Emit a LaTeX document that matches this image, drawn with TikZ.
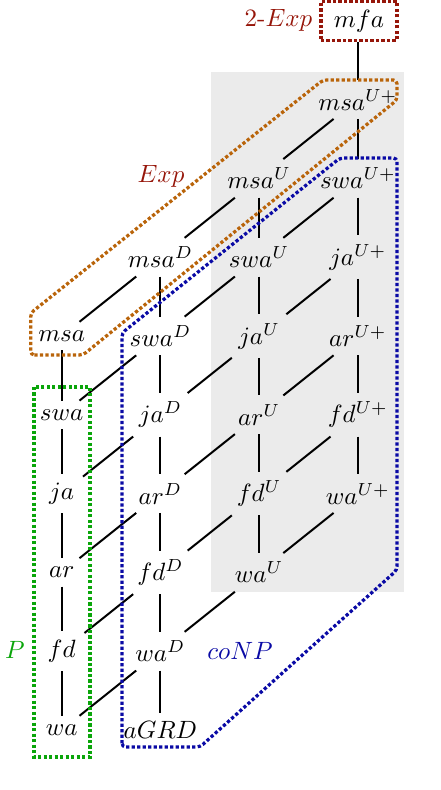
\documentclass[tikz,border=0pt]{standalone}
\definecolor{dred}{RGB}{150,22,10}
\definecolor{dorange}{RGB}{185,100,10}
\definecolor{dblue}{RGB}{10,10,165}
\definecolor{dgreen}{RGB}{10,165,10}
\definecolor{bggray}{RGB}{235,235,235}
\begin{document}
\begin{tikzpicture}[x=0.4pt,y=-0.4pt,
  lat/.style={inner sep=0.333em},
  edge/.style={line width=0.8pt},
  region/.style={dash pattern=on 1.3pt off 0.9pt, line width=1.3pt},
  lbl/.style={anchor=base, inner sep=0pt}]
\useasboundingbox (0,0) rectangle (440,790);
\fill[bggray] (211,72) rectangle (404,592);
% column 1
\node[lat] (msa) at (61.7,336)   {$msa$};
\node[lat] (swa) at (61.7,414.8) {$swa$};
\node[lat] (ja)  at (61.7,493.6) {$ja$};
\node[lat] (ar)  at (61.7,572.4) {$ar$};
\node[lat] (fd)  at (61.7,651.2) {$fd$};
\node[lat] (wa)  at (61.7,730)   {$wa$};
% column 2
\node[lat] (msaD) at (160.4,257.2) {$msa^D$};
\node[lat] (swaD) at (160.4,336)   {$swa^D$};
\node[lat] (jaD)  at (160.4,414.8) {$ja^D$};
\node[lat] (arD)  at (160.4,493.6) {$ar^D$};
\node[lat] (fdD)  at (160.4,572.4) {$fd^D$};
\node[lat] (waD)  at (160.4,651.2) {$wa^D$};
\node[lat] (aGRD) at (160.4,730)   {$aGRD$};
% column 3
\node[lat] (msaU) at (259.1,178.4) {$msa^U$};
\node[lat] (swaU) at (259.1,257.2) {$swa^U$};
\node[lat] (jaU)  at (259.1,336)   {$ja^U$};
\node[lat] (arU)  at (259.1,414.8) {$ar^U$};
\node[lat] (fdU)  at (259.1,493.6) {$fd^U$};
\node[lat] (waU)  at (259.1,572.4) {$wa^U$};
% column 4
\node[lat, draw=dred, region, inner xsep=5.2pt] (mfa) at (359,20.8) {$mfa$};
\node[lat] (msaUp) at (357.8,99.6)  {$msa^{U+}$};
\node[lat] (swaUp) at (357.8,178.4) {$swa^{U+}$};
\node[lat] (jaUp)  at (357.8,257.2) {$ja^{U+}$};
\node[lat] (arUp)  at (357.8,336)   {$ar^{U+}$};
\node[lat] (fdUp)  at (357.8,414.8) {$fd^{U+}$};
\node[lat] (waUp)  at (357.8,493.6) {$wa^{U+}$};
% vertical edges
\draw[edge] (msa)--(swa) (swa)--(ja) (ja)--(ar) (ar)--(fd) (fd)--(wa);
\draw[edge] (msaD)--(swaD) (swaD)--(jaD) (jaD)--(arD) (arD)--(fdD) (fdD)--(waD) (waD)--(aGRD);
\draw[edge] (msaU)--(swaU) (swaU)--(jaU) (jaU)--(arU) (arU)--(fdU) (fdU)--(waU);
\draw[edge] (msaUp.north |- mfa.south)--(msaUp) (msaUp)--(swaUp) (swaUp)--(jaUp) (jaUp)--(arUp) (arUp)--(fdUp) (fdUp)--(waUp);
% diagonal edges
\draw[edge] (msa)--(msaD) (swa)--(swaD) (ja)--(jaD) (ar)--(arD) (fd)--(fdD) (wa)--(waD);
\draw[edge] (msaD)--(msaU) (swaD)--(swaU) (jaD)--(jaU) (arD)--(arU) (fdD)--(fdU) (waD)--(waU);
\draw[edge] (msaU)--(msaUp) (swaU)--(swaUp) (jaU)--(jaUp) (arU)--(arUp) (fdU)--(fdUp) (waU)--(waUp);
% regions
\draw[region, draw=dorange, rounded corners=1.5pt]
  (30.7,355) -- (83,355) -- (397,100) -- (397,80) -- (323,80) -- (30.7,313) -- cycle;
\draw[region, draw=dblue, rounded corners=1.5pt]
  (122,747) -- (122,333) -- (340,158) -- (397,158) -- (397,570) -- (200,747) -- cycle;
\draw[region, draw=dgreen] (34,387) rectangle (90,757);
% labels
\node[lbl, text=dred] (lexp2) at (278.5,27) {2-$Exp$};
\node[lbl, text=dred] (lexp) at (161,183) {$Exp$};
\node[lbl, text=dgreen] (lp) at (15,658) {$P$};
\node[lbl, text=dblue] (lconp) at (240,659) {$coNP$};
\end{tikzpicture}
\end{document}
